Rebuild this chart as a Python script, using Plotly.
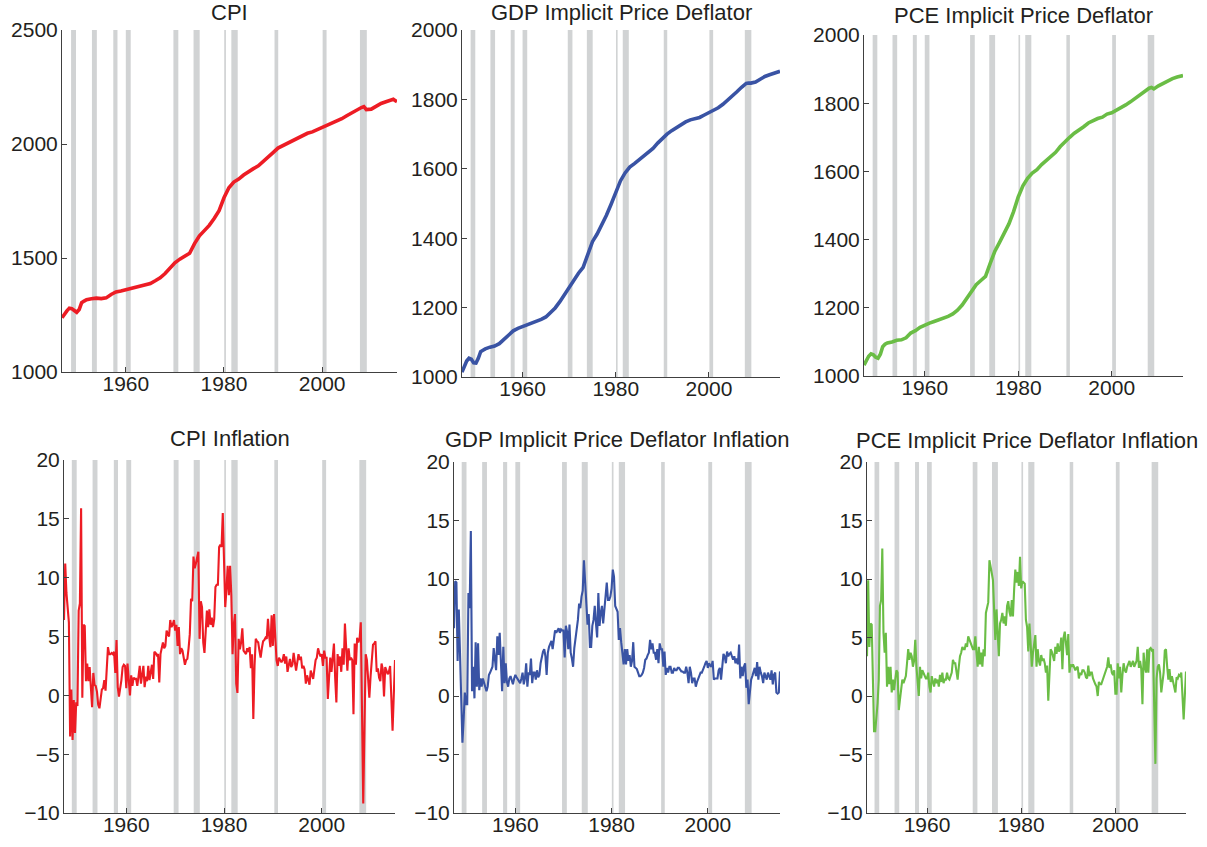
import plotly.graph_objects as go

# ---------------------------------------------------------------------------
# Data: price levels (400 x log index) and annualised quarterly inflation (%)
# ---------------------------------------------------------------------------

LEVEL_DATES = [
    1947.0, 1947.5, 1948.0, 1948.5, 1949.0, 1949.5, 1950.0, 1950.5, 1951.0, 1951.5,
    1952, 1953, 1954, 1955, 1956, 1957, 1958, 1959, 1960, 1961,
    1962, 1963, 1964, 1965, 1966, 1967, 1968, 1969, 1970, 1971,
    1972, 1973, 1974, 1975, 1976, 1977, 1978, 1979, 1980, 1981,
    1982, 1983, 1984, 1985, 1986, 1987, 1988, 1989, 1990, 1991,
    1992, 1993, 1994, 1995, 1996, 1997, 1998, 1999, 2000, 2001,
    2002, 2003, 2004, 2005, 2006, 2007, 2008, 2008.5, 2009, 2010,
    2011, 2012, 2013, 2014, 2014.5, 2015, 2015.25,
]

CPI_LEVEL = [
    1238, 1255, 1268, 1280, 1278, 1270, 1262, 1274, 1304, 1311,
    1317, 1321, 1324, 1322, 1325, 1340, 1351, 1355, 1361, 1367,
    1372, 1377, 1382, 1388, 1400, 1413, 1432, 1455, 1479, 1495,
    1507, 1521, 1563, 1597, 1620, 1643, 1673, 1708, 1764, 1808,
    1833, 1846, 1864, 1880, 1892, 1904, 1922, 1940, 1962, 1982,
    1993, 2005, 2015, 2026, 2037, 2047, 2053, 2062, 2072, 2084,
    2090, 2101, 2111, 2124, 2137, 2148, 2160, 2164, 2151, 2153,
    2166, 2178, 2185, 2192, 2196, 2189, 2186,
]

GDP_LEVEL = [
    1014, 1034, 1046, 1054, 1051, 1041, 1040, 1054, 1073, 1077,
    1081, 1086, 1089, 1096, 1108, 1122, 1133, 1140, 1145, 1150,
    1155, 1160, 1166, 1173, 1185, 1199, 1217, 1238, 1261, 1282,
    1299, 1316, 1350, 1390, 1412, 1438, 1466, 1498, 1532, 1565,
    1588, 1605, 1615, 1626, 1636, 1647, 1659, 1674, 1688, 1700,
    1710, 1719, 1727, 1735, 1741, 1745, 1748, 1755, 1762, 1769,
    1776, 1786, 1797, 1810, 1822, 1835, 1846, 1847, 1847, 1850,
    1858, 1866, 1871, 1876, 1878, 1880, 1881,
]

PCE_LEVEL = [
    1032, 1047, 1058, 1065, 1062, 1055, 1052, 1064, 1086, 1093,
    1097, 1100, 1105, 1106, 1112, 1126, 1133, 1143, 1150, 1155,
    1160, 1165, 1169, 1175, 1182, 1193, 1208, 1228, 1250, 1268,
    1280, 1292, 1330, 1366, 1392, 1418, 1446, 1482, 1525, 1558,
    1580, 1595, 1605, 1620, 1632, 1644, 1656, 1673, 1688, 1700,
    1712, 1720, 1731, 1742, 1749, 1755, 1759, 1768, 1772, 1779,
    1786, 1795, 1804, 1814, 1826, 1836, 1844, 1846, 1842, 1851,
    1859, 1866, 1872, 1877, 1878, 1879, 1881,
]

# Quarterly inflation, 1947Q2 .. 2015Q1 (one row per year)
CPI_INFL = [
    6.4, 11.2, 8.7,              # 1947
    7.2, 6.2, -3.5, 0.5,         # 1948
    -3.8, -0.4, -3.2, -0.6,      # 1949
    -0.9, 7.2, 7.8, 15.9,        # 1950
    -0.2, 6.0, 5.9, 1.2,         # 1951
    2.7, 1.2, 2.4, 0.5,          # 1952
    -1.0, 1.9, 0.9, 0.8,         # 1953
    0.3, -0.8, -1.1, -0.3,       # 1954
    0.5, 0.6, 1.3, 0.4,          # 1955
    2.5, 4.1, 3.5, 3.5,          # 1956
    3.6, 3.5, 3.7, 1.9,          # 1957
    4.7, 0.7, -0.1, 0.5,         # 1958
    1.3, 2.4, 2.6, 2.5,          # 1959
    0.6, 2.7, 1.2, 0.0,          # 1960
    1.7, 0.8, 1.5, 1.4,          # 1961
    1.4, 0.8, 1.6, 2.5,          # 1962
    1.0, 1.6, 2.5, 0.7,          # 1963
    1.6, 1.2, 2.5, 1.3,          # 1964
    1.8, 2.6, 1.4, 3.7,          # 1965
    3.6, 3.4, 3.5, 1.1,          # 1966
    3.5, 4.1, 4.5, 4.0,          # 1967
    4.2, 5.5, 5.3, 5.0,          # 1968
    6.4, 5.8, 6.0, 6.4,          # 1969
    5.5, 6.0, 4.2, 5.8,          # 1970
    3.5, 4.0, 3.8, 3.0,          # 1971
    2.6, 3.0, 3.1, 4.0,          # 1972
    5.2, 8.2, 8.0, 11.8,         # 1973
    10.8, 11.2, 11.6, 12.2,      # 1974
    4.8, 8.0, 7.5, 4.5,          # 1975
    3.6, 6.0, 7.2, 5.8,          # 1976
    7.3, 6.0, 6.6, 5.8,          # 1977
    6.5, 9.2, 9.4, 9.4,          # 1978
    12.6, 12.8, 12.6, 15.5,      # 1979
    12.0, 7.5, 9.0, 11.0,        # 1980
    8.5, 11.0, 8.5, 3.5,         # 1981
    6.0, 6.9, 1.0, 0.2,          # 1982
    4.8, 3.9, 4.5, 5.7,          # 1983
    3.8, 3.6, 3.5, 4.0,          # 1984
    3.7, 4.1, 2.3, 3.5,          # 1985
    -2.0, 2.5, 4.8, 4.6,         # 1986
    4.5, 3.8, 3.2, 4.0,          # 1987
    4.6, 4.7, 4.9, 4.8,          # 1988
    6.5, 5.0, 4.1, 6.8,          # 1989
    4.2, 6.9, 5.0, 3.0,          # 1990
    2.5, 3.2, 3.0, 2.8,          # 1991
    3.0, 3.5, 2.7, 3.3,          # 1992
    2.0, 2.5, 3.1, 2.4,          # 1993
    2.6, 3.6, 2.8, 2.1,          # 1994
    2.8, 3.5, 3.0, 3.3,          # 1995
    2.3, 2.5, 2.2, 1.0,          # 1996
    1.7, 1.2, 0.9, 2.1,          # 1997
    1.8, 1.4, 2.2, 3.0,          # 1998
    3.2, 4.0, 3.6, 3.3,          # 1999
    3.5, 2.5, 3.8, 3.2,          # 2000
    3.2, -0.3, 1.5, 3.2,         # 2001
    2.0, 3.0, 4.4, 1.5,          # 2002
    -0.6, 3.5, 2.5, 3.3,         # 2003
    2.0, 4.0, 2.6, 6.1,          # 2004
    3.6, 2.1, 4.0, 3.0,          # 2005
    3.2, 3.0, -1.6, 4.4,         # 2006
    2.6, 4.9, 4.5, 4.8,          # 2007
    6.2, -1.5, -9.2, -2.8,       # 2008
    3.5, 3.0, 1.4, -0.2,         # 2009
    1.6, 3.5, 4.3, 4.4,          # 2010
    4.6, 2.0, 2.3, 1.5,          # 2011
    1.2, 2.7, 2.2, -0.1,         # 2012
    2.4, 2.1, 1.8, 2.0,          # 2013
    2.5, -0.2, -3.0, 0.0,        # 2014
    3.0,                         # 2015
]

GDP_INFL = [
    5.8, 9.8, 9.7,               # 1947
    3.0, 7.4, 3.7, -1.0,         # 1948
    -4.0, -2.0, 0.3, -0.7,       # 1949
    -0.7, 8.8, 7.5, 14.1,        # 1950
    0.4, 2.5, -0.2, 4.6,         # 1951
    0.8, 4.5, 0.5, 1.5,          # 1952
    0.8, 1.5, 1.2, 0.8,          # 1953
    0.4, 0.8, 1.8, 2.0,          # 1954
    2.3, 2.5, 4.1, 3.0,          # 1955
    2.2, 5.1, 3.5, 5.4,          # 1956
    1.8, 0.4, 4.2, 1.1,          # 1957
    2.8, 1.2, 0.8, 1.5,          # 1958
    1.7, 1.3, 1.0, 1.5,          # 1959
    1.8, 1.6, 1.4, 1.2,          # 1960
    1.1, 1.5, 2.0, 1.0,          # 1961
    1.5, 2.8, 0.8, 2.0,          # 1962
    1.8, 3.2, 1.1, 2.0,          # 1963
    2.0, 1.4, 2.2, 1.6,          # 1964
    1.8, 2.8, 3.4, 3.8,          # 1965
    4.0, 3.4, 1.8, 3.7,          # 1966
    4.2, 4.4, 4.7, 4.0,          # 1967
    5.0, 5.6, 5.4, 5.6,          # 1968
    5.8, 5.4, 5.7, 5.6,          # 1969
    5.6, 3.3, 6.0, 5.5,          # 1970
    4.0, 6.1, 3.7, 3.2,          # 1971
    2.5, 4.1, 4.8, 5.5,          # 1972
    6.5, 7.9, 7.5, 8.5,          # 1973
    9.0, 11.6, 9.5, 7.0,         # 1974
    6.1, 7.0, 4.2, 4.2,          # 1975
    6.0, 6.5, 7.7, 6.2,          # 1976
    5.0, 8.8, 6.0, 7.1,          # 1977
    7.7, 6.2, 7.4, 8.4,          # 1978
    9.7, 8.2, 8.2, 8.5,          # 1979
    9.2, 10.8, 10.2, 7.7,        # 1980
    7.4, 7.2, 4.8, 5.8,          # 1981
    4.6, 3.7, 2.7, 4.0,          # 1982
    2.7, 4.0, 3.0, 3.5,          # 1983
    2.5, 3.0, 4.6, 2.5,          # 1984
    2.4, 2.3, 2.0, 1.7,          # 1985
    1.7, 1.8, 2.0, 2.4,          # 1986
    3.1, 3.2, 3.5, 3.7,          # 1987
    4.8, 4.0, 4.5, 3.7,          # 1988
    3.7, 3.1, 4.0, 2.8,          # 1989
    4.5, 4.0, 4.0, 2.5,          # 1990
    3.8, 1.8, 2.4, 2.0,          # 1991
    2.5, 2.5, 2.0, 2.0,          # 1992
    2.4, 2.2, 2.2, 2.4,          # 1993
    2.4, 2.2, 2.1, 2.1,          # 1994
    2.0, 2.0, 2.5, 2.0,          # 1995
    1.1, 2.5, 2.0, 1.1,          # 1996
    1.5, 1.5, 0.8, 1.2,          # 1997
    1.5, 1.7, 2.0, 2.0,          # 1998
    2.2, 2.5, 2.8, 3.0,          # 1999
    2.4, 2.8, 2.6, 2.5,          # 2000
    3.0, 1.4, 1.5, 1.5,          # 2001
    1.5, 2.2, 2.4, 1.4,          # 2002
    2.7, 3.6, 3.4, 2.8,          # 2003
    3.8, 3.4, 3.6, 3.7,          # 2004
    3.4, 3.1, 3.4, 2.8,          # 2005
    3.2, 2.7, 4.4, 1.5,          # 2006
    2.5, 1.7, 2.5, 2.8,          # 2007
    0.7, 1.4, -0.7, 0.7,         # 2008
    1.4, 1.7, 2.0, 2.4,          # 2009
    1.7, 2.9, 1.4, 2.5,          # 2010
    2.0, 1.7, 1.1, 2.0,          # 2011
    1.7, 1.4, 2.0, 1.7,          # 2012
    1.4, 2.2, 1.0, 1.8,          # 2013
    2.0, 0.3, 0.2, 0.3,          # 2014
    2.1,                         # 2015
]

PCE_INFL = [
    3.4, 9.9, 4.2,               # 1947
    6.2, 6.1, 2.0, -3.0,         # 1948
    -3.0, -2.0, -0.6, 1.4,       # 1949
    7.7, 8.2, 12.6, 5.4,         # 1950
    3.7, 5.4, 0.8, 2.5,          # 1951
    1.0, 2.5, 0.3, 1.4,          # 1952
    0.5, 1.4, 2.2, 2.0,          # 1953
    -1.2, -0.3, 0.8, 1.4,        # 1954
    1.1, 1.4, 1.7, 2.8,          # 1955
    4.0, 3.1, 3.7, 3.4,          # 1956
    2.5, 3.0, 4.8, 2.5,          # 1957
    0.7, 0.0, 2.5, 1.5,          # 1958
    2.2, 2.0, 1.8, 1.5,          # 1959
    1.5, 2.0, 0.8, 0.3,          # 1960
    1.7, 1.2, 0.8, 1.5,          # 1961
    1.1, 1.4, 0.8, 1.8,          # 1962
    1.2, 2.0, 1.1, 1.4,          # 1963
    1.4, 2.0, 1.5, 1.4,          # 1964
    1.7, 2.0, 3.1, 2.8,          # 1965
    2.8, 1.8, 1.4, 2.5,          # 1966
    3.4, 3.7, 4.2, 4.0,          # 1967
    4.0, 4.5, 4.2, 5.1,          # 1968
    4.8, 4.5, 4.1, 4.0,          # 1969
    4.0, 5.1, 3.7, 2.5,          # 1970
    4.2, 2.7, 3.7, 2.5,          # 1971
    4.0, 3.4, 7.1, 7.5,          # 1972
    8.0, 11.6, 10.8, 10.5,       # 1973
    9.9, 6.5, 4.8, 7.4,          # 1974
    5.1, 3.4, 6.2, 6.5,          # 1975
    7.1, 6.2, 6.8, 6.0,          # 1976
    7.7, 8.1, 7.2, 6.8,          # 1977
    8.2, 6.8, 9.1, 10.8,         # 1978
    9.7, 10.6, 9.4, 11.9,        # 1979
    9.2, 9.8, 9.7, 9.6,          # 1980
    6.5, 5.9, 3.8, 6.2,          # 1981
    4.5, 2.5, 3.7, 4.5,          # 1982
    5.2, 2.5, 4.0, 3.0,          # 1983
    2.6, 3.5, 3.0, 3.2,          # 1984
    2.8, 2.0, 2.6, -0.4,         # 1985
    2.5, 4.0, 3.8, 3.3,          # 1986
    3.0, 4.2, 3.6, 4.5,          # 1987
    3.8, 4.0, 5.0, 2.3,          # 1988
    5.0, 5.5, 4.5, 3.5,          # 1989
    5.3, 2.0, 2.7, 2.5,          # 1990
    2.7, 2.5, 2.2, 2.4,          # 1991
    2.5, 1.5, 2.0, 1.8,          # 1992
    2.2, 2.2, 2.0, 1.6,          # 1993
    1.5, 2.6, 1.7, 2.0,          # 1994
    2.0, 1.5, 1.2, 1.0,          # 1995
    0.8, 0.0, 1.2, 1.0,          # 1996
    1.0, 1.3, 1.6, 2.0,          # 1997
    2.2, 2.5, 3.3, 2.4,          # 1998
    2.7, 2.0, 1.8, 2.2,          # 1999
    0.2, 0.2, 2.8, 1.5,          # 2000
    2.5, 0.3, 1.8, 2.8,          # 2001
    2.2, 2.0, 2.5, 2.8,          # 2002
    3.0, 2.5, 2.8, 3.0,          # 2003
    2.5, 2.8, 3.0, 4.2,          # 2004
    2.4, 3.0, 2.3, -0.7,         # 2005
    3.7, 2.5, 2.0, 4.0,          # 2006
    2.0, 4.0, 4.1, 3.9,          # 2007
    4.0, -0.9, -5.8, 1.5,        # 2008
    2.5, 2.7, 2.0, 0.3,          # 2009
    1.0, 2.0, 3.9, 4.0,          # 2010
    2.5, 1.4, 2.3, 1.2,          # 2011
    1.7, 1.3, 0.8, 0.3,          # 2012
    1.6, 1.5, 1.8, 1.7,          # 2013
    2.0, 0.0, -2.0, 0.0,         # 2014
    2.1,                         # 2015
]

# Quarter positions for the inflation series (first entry is 1947Q2)
INFL_DATES = [1947.25 + 0.25 * i for i in range(len(CPI_INFL))]

# NBER recession periods (start, end)
REC_START = [1948.85, 1953.1, 1957.45, 1960.0, 1969.7, 1973.8, 1980.05, 1981.5, 1990.3, 2000.1, 2007.7]
REC_END = [1949.85, 1954.1, 1958.3, 1961.0, 1970.7, 1975.05, 1980.4, 1982.8, 1991.05, 2000.9, 2009.1]

X_TICKS = [1960, 1980, 2000]

# ---------------------------------------------------------------------------
# Figure
# ---------------------------------------------------------------------------
W, H = 1207, 847
RED, BLUE, GREEN = "#ed1c24", "#3953a4", "#6abd45"
BAND = "#d1d3d4"
AXIS = "#404040"
TEXT = "#231f20"
FONT = "Liberation Sans, Arial, Helvetica, sans-serif"

# (title, x, y, colour, width, y-range, y-ticks, box in pixels l, r, t, b,
#  x-range, title gap above the plot in pixels)
panels = [
    ("CPI", LEVEL_DATES, CPI_LEVEL, RED, 3.6, [1000, 2500], [1000, 1500, 2000, 2500],
     (62, 397, 30, 372), [1947.0, 2015.25], 17),
    ("GDP Implicit Price Deflator", LEVEL_DATES, GDP_LEVEL, BLUE, 3.6, [1000, 2000],
     [1000, 1200, 1400, 1600, 1800, 2000], (462, 780, 30, 377), [1947.0, 2015.25], 17),
    ("PCE Implicit Price Deflator", LEVEL_DATES, PCE_LEVEL, GREEN, 3.6, [1000, 2000],
     [1000, 1200, 1400, 1600, 1800, 2000], (864, 1183, 35, 376), [1947.0, 2015.25], 19.5),
    ("CPI Inflation", INFL_DATES, CPI_INFL, RED, 2.1, [-10, 20], [-10, -5, 0, 5, 10, 15, 20],
     (64, 395, 460, 813), [1947.25, 2015.0], 22),
    ("GDP Implicit Price Deflator Inflation", INFL_DATES, GDP_INFL, BLUE, 2.1, [-10, 20],
     [-10, -5, 0, 5, 10, 15, 20], (454, 780, 462, 813), [1947.25, 2015.0], 22.5),
    ("PCE Implicit Price Deflator Inflation", INFL_DATES, PCE_INFL, GREEN, 2.1, [-10, 20],
     [-10, -5, 0, 5, 10, 15, 20], (867, 1186, 462, 813), [1947.25, 2015.0], 21.5),
]

fig = go.Figure()
layout = dict(
    template="none",
    width=W, height=H,
    margin=dict(l=0, r=0, t=0, b=0, pad=0, autoexpand=False),
    paper_bgcolor="white", plot_bgcolor="white",
    font=dict(family=FONT, size=21, color=TEXT),
    showlegend=False,
    shapes=[], annotations=[],
)

for i, (title, xs, ys, color, lw, yr, yt, box, xr, gap) in enumerate(panels):
    sfx = "" if i == 0 else str(i + 1)
    l, r, t, b = box
    xdom = [l / W, r / W]
    ydom = [1 - b / H, 1 - t / H]

    fig.add_trace(go.Scatter(
        x=xs, y=ys, mode="lines",
        line=dict(color=color, width=lw, shape="linear"),
        xaxis="x" + sfx, yaxis="y" + sfx, hoverinfo="skip",
    ))

    axis_common = dict(
        automargin=False,
        showline=True, linecolor=AXIS, linewidth=1, mirror=False,
        ticks="inside", ticklen=5, tickwidth=1, tickcolor=AXIS,
        showgrid=False, zeroline=False,
        tickfont=dict(family=FONT, size=21, color=TEXT),
        fixedrange=True,
    )
    layout["xaxis" + sfx] = dict(domain=xdom, anchor="y" + sfx, range=xr,
                                 tickmode="array", tickvals=X_TICKS,
                                 ticklabelstandoff=-7, **axis_common)
    layout["yaxis" + sfx] = dict(domain=ydom, anchor="x" + sfx, range=yr,
                                 tickmode="array", tickvals=yt,
                                 ticklabelstandoff=-1, **axis_common)

    for s, e in zip(REC_START, REC_END):
        layout["shapes"].append(dict(
            type="rect", xref="x" + sfx, yref="y" + sfx + " domain",
            x0=s, x1=e, y0=0, y1=1,
            fillcolor=BAND, line=dict(width=0), layer="below",
        ))

    layout["annotations"].append(dict(
        text=title, xref="paper", yref="paper",
        x=(xdom[0] + xdom[1]) / 2, y=1 - (t - gap) / H,
        xanchor="center", yanchor="middle", showarrow=False,
        borderpad=0,
        font=dict(family=FONT, size=22, color=TEXT),
    ))

fig.update_layout(**layout)
fig.write_html("out.html")
